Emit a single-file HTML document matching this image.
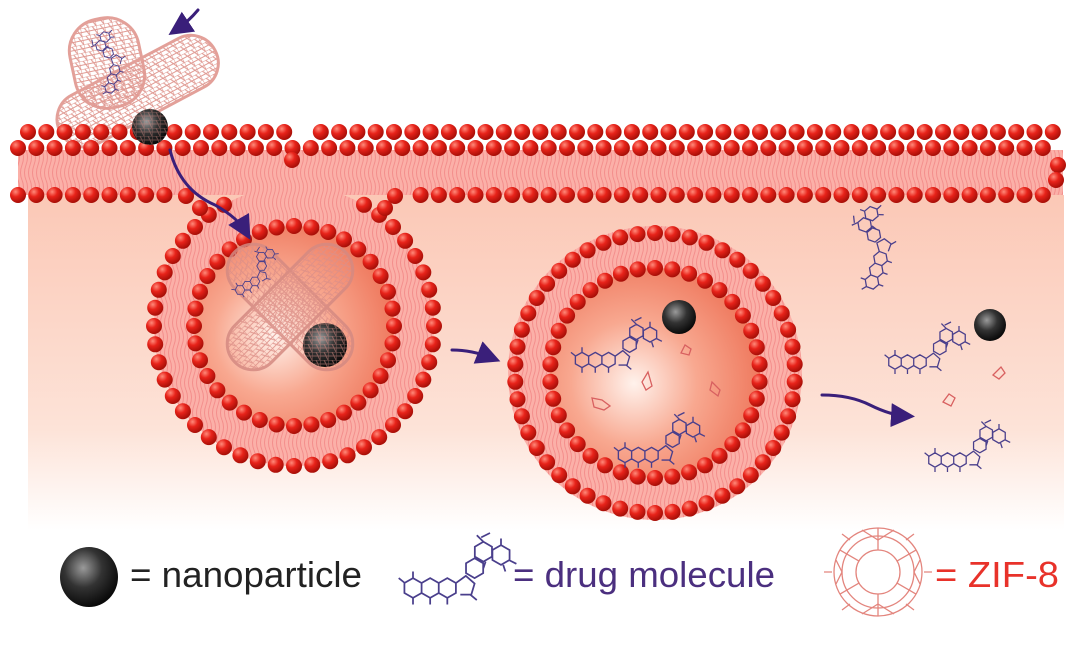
<!DOCTYPE html><html><head><meta charset="utf-8"><style>html,body{margin:0;padding:0;background:#fff}svg{display:block}</style></head><body>
<svg id="s" width="1075" height="657" viewBox="0 0 1075 657" xmlns="http://www.w3.org/2000/svg">
<defs>
<radialGradient id="bead" cx="35%" cy="30%" r="70%"><stop offset="0" stop-color="#ff8a7a"/><stop offset="0.45" stop-color="#e8231a"/><stop offset="1" stop-color="#a80f08"/></radialGradient>
<radialGradient id="np" cx="40%" cy="35%" r="65%"><stop offset="0" stop-color="#9a9a9a"/><stop offset="0.5" stop-color="#333"/><stop offset="1" stop-color="#0a0a0a"/></radialGradient>
<radialGradient id="ves" cx="40%" cy="55%" r="60%"><stop offset="0" stop-color="#fff2ec"/><stop offset="0.5" stop-color="#f8a890"/><stop offset="1" stop-color="#ef7a5f"/></radialGradient>
<linearGradient id="cyto" x1="0" y1="0" x2="0" y2="1"><stop offset="0" stop-color="#fbc8b6"/><stop offset="0.7" stop-color="#fde3d8"/><stop offset="1" stop-color="#ffffff"/></linearGradient>
<pattern id="tails" width="8" height="30" patternUnits="userSpaceOnUse"><path d="M2 0 q3 7 0 15 q-3 8 0 15 M6 0 q3 7 0 15 q-3 8 0 15" stroke="#f28080" stroke-width="1" fill="none" opacity="0.7"/></pattern>
<pattern id="mesh" width="8" height="8" patternUnits="userSpaceOnUse"><path d="M0 0 H8 M0 4 H8 M0 0 V8 M4 0 L8 8" stroke="#dd9088" stroke-width="1.1" fill="none"/></pattern>
<g id="drug" fill="none" stroke="#4a3f8c" stroke-width="1.6"><path id="drugp" d=""/></g>
<marker id="arr" markerWidth="8" markerHeight="8" refX="5" refY="4" orient="auto"><path d="M0 0 L8 4 L0 8z" fill="#3a1f7a"/></marker>
</defs>
<rect width="1075" height="657" fill="#fff"/>
<rect x="28" y="195" width="1036" height="335" fill="url(#cyto)"/>
<rect x="18" y="150" width="1045" height="45" fill="#fbb0a8"/>
<rect x="18" y="150" width="1045" height="45" fill="url(#tails)"/>
<circle cx="294" cy="326" r="140" fill="#fbb0a8"/>
<circle cx="294" cy="326" r="140" fill="url(#tails)"/>
<circle cx="294" cy="326" r="100" fill="url(#ves)"/>
<circle cx="655" cy="373" r="147" fill="#fbb0a8"/>
<circle cx="655" cy="373" r="147" fill="url(#tails)"/>
<circle cx="655" cy="373" r="105" fill="url(#ves)"/>
<!-- ZIF top cluster (behind beads partially) -->
<g stroke="#e0968e" stroke-width="3" fill="url(#mesh)" opacity="0.9">
<rect x="72" y="18" width="70" height="90" rx="32" transform="rotate(-12 107 63)"/>
<rect x="50" y="64" width="175" height="55" rx="27" transform="rotate(-28 137 91)"/>
</g>
<g id="beads"></g>
<g transform="translate(110,88) scale(0.6) rotate(-75)"><use href="#drug"/></g>
<!-- ZIF vesicle1 -->
<g stroke="#d58a82" stroke-width="3" fill="url(#mesh)" opacity="0.85">
<rect x="212" y="281" width="156" height="52" rx="26" transform="rotate(45 290 307)"/>
<rect x="212" y="281" width="156" height="52" rx="26" transform="rotate(-45 290 307)"/>
</g>
<g transform="translate(240,290) scale(0.55) rotate(-30)"><use href="#drug"/></g>
<circle cx="150" cy="127" r="18" fill="url(#np)"/>
<circle cx="150" cy="127" r="18" fill="url(#mesh)" opacity="0.4"/>
<circle cx="325" cy="345" r="22" fill="url(#np)"/>
<circle cx="325" cy="345" r="22" fill="url(#mesh)" opacity="0.5"/>
<circle cx="679" cy="317" r="17" fill="url(#np)"/>
<circle cx="990" cy="325" r="16" fill="url(#np)"/>
<g transform="translate(582,360) scale(0.85)"><use href="#drug"/></g>
<g transform="translate(625,455) scale(0.85)"><use href="#drug"/></g>
<g transform="translate(872,282) scale(0.8) rotate(-70)"><use href="#drug"/></g>
<g transform="translate(895,362) scale(0.8)"><use href="#drug"/></g>
<g transform="translate(935,460) scale(0.8)"><use href="#drug"/></g>
<g fill="none" stroke="#d86060" stroke-width="1.3">
<path d="M592 398 l10 2 l8 6 l-6 4 l-10 -3z"/><path d="M648 372 l-6 10 l4 8 l6 -4z"/><path d="M712 382 l8 8 l-2 6 l-8 -6z"/><path d="M685 345 l-4 8 l8 2 l2 -6z"/>
<path d="M943 402 l6 -8 l6 4 l-4 8z"/><path d="M993 375 l8 -8 l4 6 l-6 6z"/>
</g>
<g fill="none" stroke="#3a1f7a" stroke-width="3" stroke-linecap="round">
<path d="M198 10 Q188 22 176 30" marker-end="url(#arr)"/>
<path d="M170 150 Q180 190 215 205 Q238 218 246 232" marker-end="url(#arr)"/>
<path d="M452 350 Q472 350 492 358" marker-end="url(#arr)"/>
<path d="M822 395 Q850 395 870 405 Q890 415 906 416" marker-end="url(#arr)"/>
</g>
<!-- legend -->
<ellipse cx="89" cy="577" rx="29" ry="30" fill="url(#np)"/>
<text x="130" y="587" font-family="Liberation Sans, sans-serif" font-size="36" fill="#222" textLength="232" lengthAdjust="spacingAndGlyphs">= nanoparticle</text>
<g transform="translate(413,588) scale(1.1)"><use href="#drug"/></g>
<text x="513" y="587" font-family="Liberation Sans, sans-serif" font-size="36" fill="#4b2f7f" textLength="262" lengthAdjust="spacingAndGlyphs">= drug molecule</text>
<g fill="none" stroke="#e07870" stroke-width="1.3" opacity="0.9">
<circle cx="878" cy="572" r="44"/><circle cx="878" cy="572" r="36"/><circle cx="878" cy="572" r="22"/>
<path d="M878 528 V550 M878 594 V616 M840 550 L859 561 M916 594 L897 583 M840 594 L859 583 M916 550 L897 561"/>
<path d="M862 530 l16 10 l16 -10 M862 614 l16 -10 l16 10 M836 560 l6 12 l-6 12 M920 560 l-6 12 l6 12"/>
<path d="M850 540 l-8 -6 M906 540 l8 -6 M850 604 l-8 6 M906 604 l8 6 M832 572 h-8 M924 572 h8"/>
</g>
<text x="935" y="587" font-family="Liberation Sans, sans-serif" font-size="36" fill="#e8322a" textLength="124" lengthAdjust="spacingAndGlyphs">= ZIF-8</text>
</svg>
<script>
var d='';function hx(cx,cy,r){r=r||9;var p=[];for(var i=0;i<6;i++){var a=Math.PI/3*i-Math.PI/2;p.push((cx+r*Math.cos(a)).toFixed(1)+' '+(cy+r*Math.sin(a)).toFixed(1));}d+='M'+p.join(' L')+'z ';}
hx(0,0);hx(15.6,0);hx(31.2,0);
d+='M39 -4.5 L48 -11 L56 -4 L53 6 L43 6 ';
hx(56,-18);hx(64,-33);hx(80,-30);
d+='M-8 -5 l-5 -4 M0 -9 v-6 M15.6 9 v6 M0 9 v6 M31.2 9 v6 M52 6 l6 5 M64 -42 l-6 -6 M62 -46 l8 -4 M80 -39 v-6 M88 -25 l6 3 M82 -21 l2 6 M66 -24 l-2 6';
document.getElementById('drugp').setAttribute('d',d);
var g=document.getElementById('beads'),h='';
function b(x,y,r){h+='<circle cx="'+x.toFixed(1)+'" cy="'+y.toFixed(1)+'" r="'+(r||8)+'" fill="url(#bead)"/>';}
for(var x=22;x<1060;x+=18.3){if(x>280&&x<300)continue;b(x+6,132);}
for(var x=18;x<1060;x+=18.3){b(x,148);}
b(292,160);b(1058,165);b(1056,180);
for(var x=18;x<1058;x+=18.3){if(x>175&&x<405)continue;b(x,195);}
function ring(cx,cy,r,n,skipA){for(var i=0;i<n;i++){var a=i/n*2*Math.PI-Math.PI/2;var X=cx+r*Math.cos(a),Y=cy+r*Math.sin(a);if(skipA!==undefined&&Y<skipA)continue;b(X,Y);}}
ring(294,326,140,48,198);
ring(294,326,100,36,205);
b(186,196);b(200,208);b(395,196);b(385,208);
ring(655,373,140,50);
ring(655,373,105,38);
g.innerHTML=h;
</script>
</body></html>
